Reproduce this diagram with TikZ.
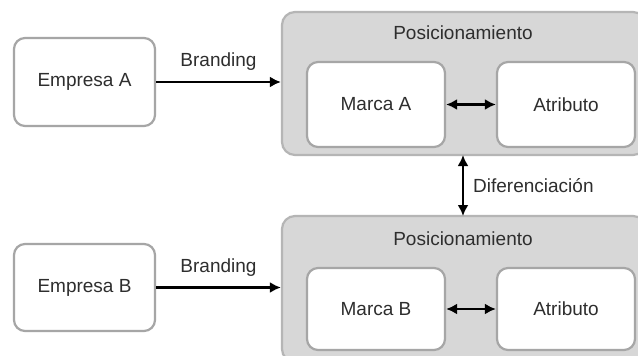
\documentclass[tikz,border=0pt]{standalone}
\usepackage{fontspec}
\setmainfont{Liberation Sans}
\usetikzlibrary{arrows.meta}
\definecolor{txt}{HTML}{2E2E2E}
\definecolor{edge}{HTML}{A6A6A6}
\definecolor{outerfill}{HTML}{D7D7D7}
\definecolor{outeredge}{HTML}{B5B5B5}
\begin{document}
\begin{tikzpicture}[x=1pt,y=-1pt,
  every node/.style={font=\fontsize{19}{22}\selectfont, text=txt, inner sep=0pt},
  whitebox/.style={draw=edge, line width=2.2pt, fill=white, rounded corners=11pt},
  outerbox/.style={draw=outeredge, line width=2.2pt, fill=outerfill, rounded corners=13pt},
  conn/.style={line width=2.4pt, black, -{Latex[length=11pt,width=11pt]}},
  biconn/.style={line width=2.4pt, black, {Latex[length=11pt,width=11pt]}-{Latex[length=11pt,width=11pt]}},
  lbl/.style={fill=none}]
\clip (0,0) rectangle (638,356);
\fill[white] (0,0) rectangle (638,356);
% outer boxes
\node[outerbox, minimum width=364pt, minimum height=143pt] (posA) at (464,83.5) {};
\node[outerbox, minimum width=364pt, minimum height=146pt] (posB) at (464,289) {};
\node (posAt) at (463,33) {Posicionamiento};
\node (posBt) at (463,239) {Posicionamiento};
% inner boxes
\node[whitebox, minimum width=138pt, minimum height=85pt] (marcaA) at (376,104.5) {Marca A};
\node[whitebox, minimum width=138pt, minimum height=85pt] (atrA) at (566,104.5) {Atributo};
\node[whitebox, minimum width=138pt, minimum height=82pt] (marcaB) at (376,309) {Marca B};
\node[whitebox, minimum width=138pt, minimum height=82pt] (atrB) at (566,309) {Atributo};
% company boxes
\node[whitebox, minimum width=141pt, minimum height=88pt] (empA) at (84.5,82) {Empresa A};
\node[whitebox, minimum width=141pt, minimum height=87pt] (empB) at (84.5,287.5) {Empresa B};
% connectors
\draw[conn] (empA.east) -- (empA.east -| posA.west) node[lbl, midway, above=10pt] {Branding};
\draw[conn] (empB.east) -- (empB.east -| posB.west) node[lbl, midway, above=10pt] {Branding};
\draw[biconn] (marcaA.east) -- (atrA.west);
\draw[biconn] (marcaB.east) -- (atrB.west);
\coordinate (dtop) at (463,155);
\coordinate (dbot) at (463,216);
\draw[biconn] (dtop) -- (dbot);
\node[anchor=west] (difl) at (473,185.5) {Diferenciación};
\end{tikzpicture}
\end{document}
